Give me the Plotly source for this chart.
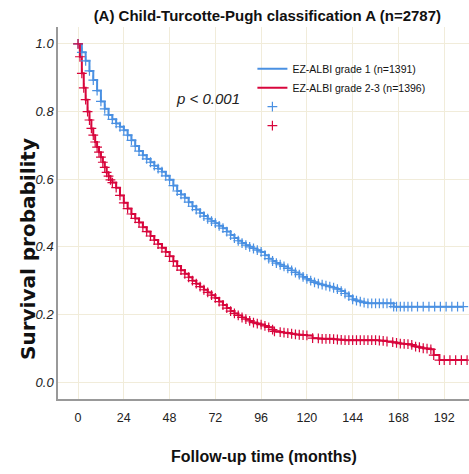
import plotly.graph_objects as go

# Kaplan-Meier estimates (months, survival probability)
grade1_time = [0, 2, 4, 6, 8, 10, 12, 14, 16, 18, 20, 22, 24, 26, 28, 30, 32, 34, 36, 38, 40, 42,
               44, 46, 48, 50, 52, 54, 56, 58, 60, 62, 64, 66, 68, 70, 72, 74, 76, 78, 80, 82, 84,
               86, 88, 90, 92, 94, 96, 98, 100, 102, 104, 106, 108, 110, 112, 114, 116, 118, 120,
               122, 124, 126, 128, 130, 132, 134, 136, 138, 140, 142, 144, 146, 148, 150, 152, 154,
               156, 158, 160, 162, 164, 165.5, 167, 169, 171, 173, 175, 178, 181, 184, 187, 190,
               193, 196, 199, 202]
grade1_surv = [1.0, 0.975, 0.95, 0.92, 0.893, 0.862, 0.83, 0.808, 0.79, 0.777, 0.765, 0.755, 0.745,
               0.73, 0.715, 0.698, 0.683, 0.671, 0.66, 0.65, 0.64, 0.631, 0.622, 0.61, 0.598, 0.581,
               0.565, 0.555, 0.545, 0.532, 0.52, 0.51, 0.5, 0.491, 0.483, 0.476, 0.47, 0.462, 0.455,
               0.445, 0.435, 0.426, 0.418, 0.411, 0.405, 0.4, 0.395, 0.39, 0.385, 0.375, 0.365,
               0.358, 0.352, 0.347, 0.342, 0.336, 0.33, 0.324, 0.318, 0.311, 0.305, 0.3, 0.295,
               0.291, 0.288, 0.285, 0.282, 0.279, 0.275, 0.269, 0.262, 0.254, 0.245, 0.241, 0.238,
               0.235, 0.233, 0.233, 0.233, 0.233, 0.233, 0.233, 0.233, 0.223, 0.223, 0.223, 0.223,
               0.223, 0.223, 0.223, 0.223, 0.223, 0.223, 0.223, 0.223, 0.223, 0.223, 0.223]

grade23_time = [0, 1, 2, 3, 4, 5, 6, 7, 8, 9, 10, 11, 12, 13, 14, 15, 16, 17, 18, 20, 22, 24, 26,
                28, 30, 32, 34, 36, 38, 40, 42, 44, 46, 48, 50, 52, 54, 56, 58, 60, 62, 64, 66, 68,
                70, 72, 74, 76, 78, 80, 82, 84, 86, 88, 90, 92, 94, 96, 98, 100, 102, 103, 106, 108,
                110, 112, 114, 116, 118, 120, 123, 126, 128, 130, 132, 134, 136, 138, 140, 142, 144,
                146, 148, 150, 152, 154, 156, 158, 160, 162, 165, 167, 169, 171, 173, 175, 177, 179,
                181, 183, 185, 186.5, 189.5, 192, 195, 198, 201, 204]
grade23_surv = [1.0, 0.962, 0.913, 0.87, 0.835, 0.8, 0.775, 0.75, 0.73, 0.71, 0.695, 0.68, 0.665,
                0.65, 0.635, 0.62, 0.609, 0.598, 0.59, 0.575, 0.552, 0.53, 0.513, 0.497, 0.484,
                0.472, 0.458, 0.445, 0.432, 0.42, 0.408, 0.397, 0.385, 0.372, 0.357, 0.343, 0.331,
                0.32, 0.31, 0.3, 0.291, 0.282, 0.273, 0.265, 0.257, 0.249, 0.238, 0.228, 0.219,
                0.21, 0.203, 0.197, 0.191, 0.186, 0.181, 0.176, 0.173, 0.17, 0.166, 0.162, 0.155,
                0.15, 0.148, 0.146, 0.145, 0.143, 0.141, 0.14, 0.139, 0.138, 0.13, 0.129, 0.128,
                0.128, 0.128, 0.127, 0.126, 0.125, 0.124, 0.124, 0.124, 0.124, 0.124, 0.124, 0.124,
                0.124, 0.124, 0.123, 0.122, 0.12, 0.118, 0.116, 0.114, 0.113, 0.112, 0.11, 0.105,
                0.103, 0.1, 0.099, 0.097, 0.08, 0.065, 0.065, 0.065, 0.065, 0.065, 0.065]

x_ticks = [0, 24, 48, 72, 96, 120, 144, 168, 192]
y_ticks = [0.0, 0.2, 0.4, 0.6, 0.8, 1.0]
y_tick_labels = ["0.0", "0.2", "0.4", "0.6", "0.8", "1.0"]

BLUE = "#4a90e2"
RED = "#d8063c"
FONT = "Liberation Sans, Arial, sans-serif"

fig = go.Figure()
fig.add_trace(go.Scatter(x=grade1_time, y=grade1_surv, mode="lines", line_shape="hv",
                         line=dict(color=BLUE, width=2), name="EZ-ALBI grade 1 (n=1391)",
                         legendgroup="a"))
fig.add_trace(go.Scatter(x=grade23_time, y=grade23_surv, mode="lines", line_shape="hv",
                         line=dict(color=RED, width=2), name="EZ-ALBI grade 2-3 (n=1396)",
                         legendgroup="b"))
fig.add_trace(go.Scatter(x=grade1_time, y=grade1_surv, mode="markers",
                         marker=dict(symbol="cross-thin-open", size=7, color=BLUE,
                                     line=dict(color=BLUE, width=1.2)), name=" ",
                         legendgroup="c"))
fig.add_trace(go.Scatter(x=grade23_time, y=grade23_surv, mode="markers",
                         marker=dict(symbol="cross-thin-open", size=7, color=RED,
                                     line=dict(color=RED, width=1.2)), name="  ",
                         legendgroup="d"))

fig.add_annotation(x=68, y=0.84, xref="x", yref="y", text="p < 0.001", showarrow=False,
                   font=dict(family=FONT, size=15, color="#222", style="italic"))
fig.add_annotation(x=(28 - 58) / 411, y=(399 - 249) / 372, xref="paper", yref="paper",
                   text="<b>Survival probability</b>", textangle=-90, showarrow=False,
                   xanchor="center", yanchor="middle",
                   font=dict(family="DejaVu Sans", size=20, color="#111"))
fig.add_annotation(x=0.5, y=-0.155, xref="paper", yref="paper",
                   text="<b>Follow-up time (months)</b>", showarrow=False, xanchor="center",
                   yanchor="middle", font=dict(family=FONT, size=16, color="#111"))

grid = "#f1ecda"
fig.update_layout(
    width=469, height=474,
    margin=dict(l=58, r=0, t=27, b=75, autoexpand=False),
    paper_bgcolor="white", plot_bgcolor="white",
    title=dict(text="<b>(A) Child-Turcotte-Pugh classification A (n=2787)</b>",
               x=0.57, xanchor="center", y=0.977, yanchor="top",
               font=dict(family=FONT, size=15, color="#111")),
    legend=dict(x=0.473, y=0.927, xanchor="left", yanchor="top", bgcolor="rgba(0,0,0,0)",
                font=dict(family=FONT, size=10.5, color="#111"), tracegroupgap=0,
                itemwidth=30),
    showlegend=True,
)
fig.update_xaxes(range=[-10.5, 205], tickvals=x_ticks, showgrid=True, gridcolor=grid, gridwidth=1,
                 zeroline=False, showline=True, linecolor="#999", linewidth=1.5, ticks="",
                 automargin=False, ticklabelstandoff=6,
                 tickfont=dict(family=FONT, size=12.5, color="#222"))
fig.update_yaxes(range=[-0.05, 1.05], tickvals=y_ticks, ticktext=y_tick_labels, showgrid=True,
                 gridcolor=grid, gridwidth=1, zeroline=False, showline=True, linecolor="#999",
                 linewidth=1.5, ticks="", automargin=False,
                 tickfont=dict(family=FONT, size=13, color="#222", style="italic"))

fig.write_html("out.html", config={"displayModeBar": False},
               post_script="document.body.style.margin='0';")
